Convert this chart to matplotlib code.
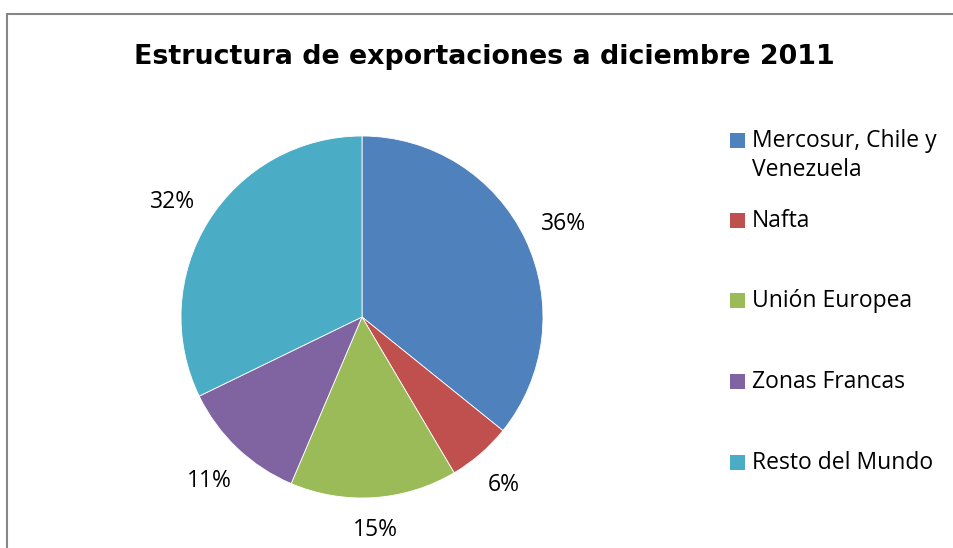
import numpy as np
import matplotlib.pyplot as plt
from matplotlib.patches import Rectangle

regions = ["Mercosur, Chile y\nVenezuela", "Nafta", "Unión Europea", "Zonas Francas", "Resto del Mundo"]
shares = [35.8, 5.7, 14.9, 11.4, 32.2]
colors = ["#4F81BD", "#C0504D", "#9BBB59", "#8064A2", "#4BACC6"]
title = "Estructura de exportaciones a diciembre 2011"

W, H = 954, 548
fig = plt.figure(figsize=(W / 100, H / 100), dpi=100)
fig.patch.set_facecolor("white")

# marco gris del grafico (se sale por la derecha y abajo)
fig.patches.append(Rectangle((7.5 / W, -0.05), 1.0, (H - 13.5) / H + 0.05,
                             transform=fig.transFigure, fill=False,
                             edgecolor="#868686", linewidth=1.5))

# torta: centro (362, 317) px, radio 181 px
cx, cy, r = 362, H - 317, 181
ax = fig.add_axes([(cx - r) / W, (cy - r) / H, 2 * r / W, 2 * r / H])
wedges, _, autotexts = ax.pie(
    shares, colors=colors, startangle=90, counterclock=False,
    autopct="%.0f%%", pctdistance=1.2, radius=1,
    wedgeprops=dict(edgecolor="white", linewidth=0.6),
    textprops=dict(fontsize=16.5, family="Open Sans", color="black"),
)
ax.set_xlim(-1, 1)
ax.set_ylim(-1, 1)
ax.set_aspect("equal")
ax.axis("off")

# etiquetas "fuera del extremo" como Excel: separacion fija desde el borde
renderer = fig.canvas.get_renderer()
gap = 19
for w, t in zip(wedges, autotexts):
    ang = np.deg2rad((w.theta1 + w.theta2) / 2)
    bb = t.get_window_extent(renderer)
    radial = abs(np.cos(ang)) * bb.width / 2 + abs(np.sin(ang)) * 8
    d = (r + gap + radial) / r
    t.set_position((d * np.cos(ang), d * np.sin(ang) - 4 / r))

fig.text(484 / W, 1 - 57 / H, title, ha="center", va="center",
         fontsize=19.4, fontweight="bold", family="DejaVu Sans")

# leyenda a mano, un cuadrado por region
y_marks = [140, 220, 300, 381, 462]
for lab, col, ym in zip(regions, colors, y_marks):
    fig.patches.append(Rectangle((730 / W, 1 - (ym + 7.5) / H), 15 / W, 15 / H,
                                 transform=fig.transFigure, facecolor=col,
                                 edgecolor="none"))
    fig.text(752 / W, 1 - (ym - 11) / H, lab, ha="left", va="top",
             fontsize=16.5, family="Open Sans", linespacing=1.3)

fig.savefig("out.png", dpi=100)
